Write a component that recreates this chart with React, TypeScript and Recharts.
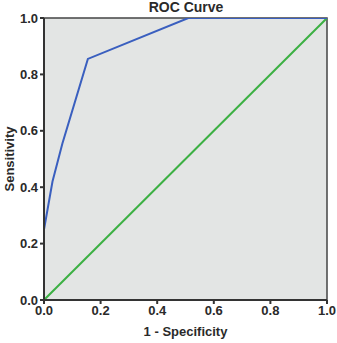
import React from 'react';
import {
  LineChart,
  Line,
  XAxis,
  YAxis,
  ReferenceArea,
} from 'recharts';

const rocX = [0, 0, 0.03, 0.065, 0.155, 0.51, 1];
const rocY = [0, 0.25, 0.42, 0.555, 0.855, 1, 1];
const refX = [0, 1];
const refY = [0, 1];
const ticks = [0, 0.2, 0.4, 0.6, 0.8, 1];

const rocData = rocX.map((x, i) => ({ x, y: rocY[i] }));
const refData = refX.map((x, i) => ({ x, y: refY[i] }));

const font = '"Liberation Sans", Arial, sans-serif';
const tickStyle = { fill: '#2a2a2a', fontSize: 13, fontWeight: 700, fontFamily: font };

export default function App() {
  return (
    <div style={{ position: 'absolute', left: 0, top: 0, width: 337, height: 343, background: '#fff' }}>
      <div
        style={{
          position: 'absolute',
          left: 0,
          width: 372,
          top: -1,
          textAlign: 'center',
          fontFamily: font,
          fontWeight: 700,
          fontSize: 14,
          color: '#2a2a2a',
        }}
      >
        ROC Curve
      </div>
      <LineChart width={337} height={343} margin={{ top: 18, right: 10, left: 0, bottom: 0 }}>
        <XAxis
          type="number"
          dataKey="x"
          domain={[0, 1]}
          ticks={ticks}
          tickFormatter={(v) => v.toFixed(1)}
          tick={tickStyle}
          tickSize={4}
          stroke="#333"
          strokeWidth={2}
          height={43}
          allowDataOverflow
          label={{ value: '1 - Specificity', position: 'insideBottom', offset: 7, fill: '#2a2a2a', fontSize: 13, fontWeight: 700, fontFamily: font }}
        />
        <YAxis
          type="number"
          dataKey="y"
          domain={[0, 1]}
          ticks={ticks}
          tickFormatter={(v) => v.toFixed(1)}
          tick={tickStyle}
          tickSize={4}
          stroke="#333"
          strokeWidth={2}
          width={44}
          allowDataOverflow
          label={{ value: 'Sensitivity', angle: -90, position: 'insideLeft', offset: 9, fill: '#2a2a2a', fontSize: 13, fontWeight: 700, fontFamily: font, style: { textAnchor: 'middle' } }}
        />
        <ReferenceArea x1={0} x2={1} y1={0} y2={1} fill="#e3e5e4" fillOpacity={1} stroke="#444" strokeWidth={1.5} />
        <Line
          data={refData}
          dataKey="y"
          type="linear"
          stroke="#3cb043"
          strokeWidth={2}
          dot={false}
          isAnimationActive={false}
        />
        <Line
          data={rocData}
          dataKey="y"
          type="linear"
          stroke="#3a5fbf"
          strokeWidth={2}
          dot={false}
          isAnimationActive={false}
        />
      </LineChart>
    </div>
  );
}
